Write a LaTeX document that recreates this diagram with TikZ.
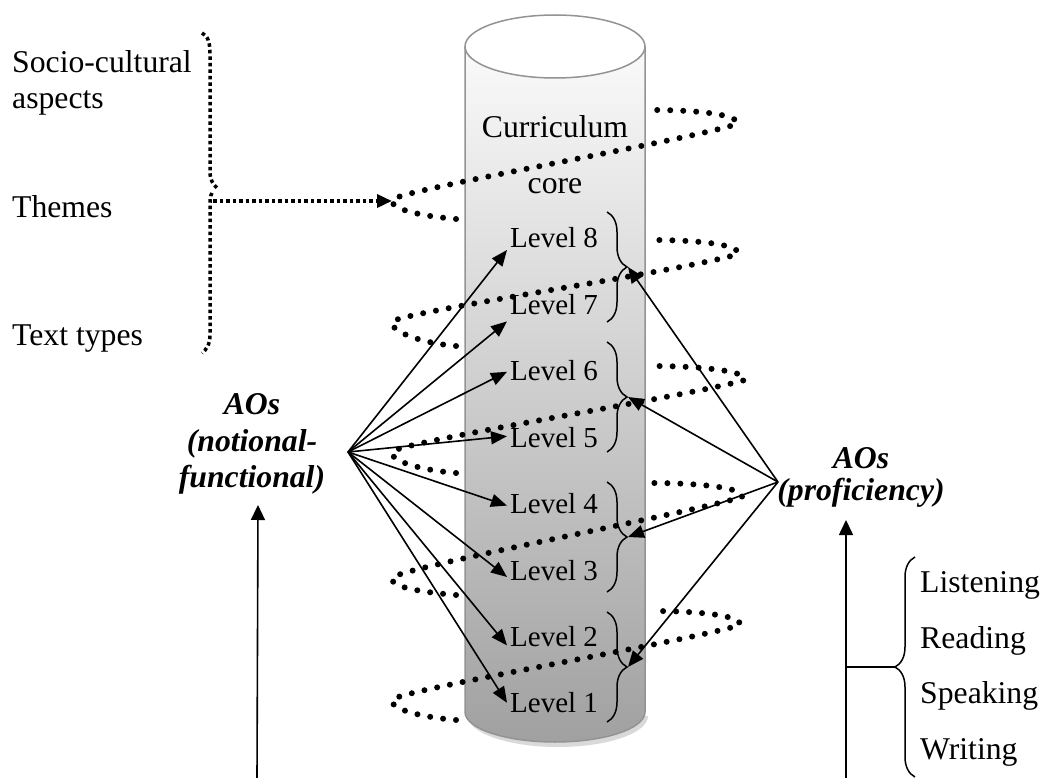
\documentclass[tikz,border=0pt]{standalone}
\usepackage{fontspec}
\setmainfont{Liberation Serif}
\usetikzlibrary{arrows.meta,decorations.pathreplacing,calc}
\begin{document}
\begin{tikzpicture}[x=1pt,y=-1pt,
  txt/.style={inner sep=0pt, font=\fontsize{31.7}{36}\selectfont},
  lvl/.style={inner sep=0pt, anchor=base west, font=\fontsize{29}{33}\selectfont},
  ao/.style={inner sep=0pt, align=center, font=\fontsize{31.7}{36.5}\selectfont\bfseries\itshape},
  arr/.style={line width=1.6pt, -{Triangle[length=16pt,width=13pt]}},
  varr/.style={line width=1.6pt, -{Triangle[length=15pt,width=14pt]}},
  spiral/.style={line width=6pt, line cap=round, dash pattern=on 0pt off 13pt},
  sqdot/.style={line width=3.5pt, dash pattern=on 3.5pt off 3pt},
  lvlbrace/.style={line width=1.5pt, decorate, decoration={brace, amplitude=20pt}},
]
\useasboundingbox (0,0) rectangle (1042,778);

% cylinder
\fill[gray!30] (468,716) arc[start angle=180,end angle=0,x radius=90,y radius=31] -- cycle;
\shade[top color=gray!4, bottom color=gray!74] (465,47) -- (465,712) arc[start angle=180,end angle=0,x radius=90,y radius=30] -- (645,47) -- cycle;
\draw[line width=1.5pt, gray!85] (465,47) -- (465,712) arc[start angle=180,end angle=0,x radius=90,y radius=30] -- (645,47);
\draw[line width=1.5pt, gray!85, fill=white] (555,46.5) ellipse[x radius=90,y radius=31.5];

% left texts
\node[txt, anchor=north west, align=left, font=\fontsize{31.7}{36}\selectfont] (soc) at (12,50.3) {Socio-cultural\\aspects};
\node[txt, anchor=base west] (themes) at (12,218) {Themes};
\node[txt, anchor=base west] (text) at (12,345) {Text types};

% curriculum core
\node[txt, anchor=north, align=center, font=\fontsize{31.7}{56}\selectfont] (core) at (555,115.3) {Curriculum\\core};

% levels
\foreach \n/\y in {8/248,7/314.4,6/380.8,5/447.2,4/513.6,3/580,2/646.4,1/712.8}
  \node[lvl] (L\n) at (510,\y) {Level \n};

% level braces
\draw[lvlbrace] (607,212) -- (607,322);
\draw[lvlbrace] (607,342) -- (607,452);
\draw[lvlbrace] (607,482) -- (607,592);
\draw[lvlbrace] (607,612) -- (607,722);
\coordinate (b87) at (628,267);
\coordinate (b65) at (628,397);
\coordinate (b43) at (628,537);
\coordinate (b21) at (628,667);

% spiral
\foreach \ybl/\yl/\yr/\xr in {219/200/124/737, 346/322/254/738, 473/452/380/745, 595/578/497/742, 720/700/625/740}
  \draw[spiral] (456,\ybl) .. controls (420,\ybl-3) and (390,\yl+9) .. (392,\yl)
     .. controls (394,\yl-9) and (690,\yr+16) .. (\xr,\yr)
     .. controls (\xr+3,\yr-9) and (700,\yr-14) .. (652,\yr-14);

% left dotted brace and arrow
\draw[sqdot] (202,33) .. controls (208,36) and (210,42) .. (210,55) -- (210,172) .. controls (210,180) and (213,184) .. (217,188);
\draw[sqdot] (212,193) .. controls (210,196) and (210,200) .. (210,208) -- (210,335) .. controls (210,345) and (206,350) .. (202,353);
\coordinate (btip) at (213,201);
\coordinate (stip) at (392,201);
\draw[sqdot, -{Triangle[length=15pt,width=13pt]}] (btip) -- (stip);

% AO nodes
\node[ao] (aoL) at (252,444) {AOs\\(notional-\\functional)};
\node[ao, font=\fontsize{31.7}{32}\selectfont\bfseries\itshape] (aoR) at (861,477) {AOs\\(proficiency)};
\coordinate (fanL) at (348,452);
\coordinate (fanR) at (778,482);

\foreach \n/\dy in {8/2,7/7,6/-9,5/-11,4/-8,3/-3,2/-1,1/-10}
  \draw[arr] (fanL) -- ($(L\n.base west)+(-3,\dy)$);
\foreach \b in {b87,b65,b43,b21}
  \draw[arr] (fanR) -- (\b);

% bottom arrows
\coordinate (lbot) at (257,778);
\coordinate (ltop) at (258,505);
\draw[varr] (lbot) -- (ltop);
\coordinate (rbot) at (846,778);
\coordinate (rtop) at (846,520);
\draw[varr] (rbot) -- (rtop);

% skills
\draw[lvlbrace] (915,777) -- (915,557);
\coordinate (sjoin) at (846,667);
\coordinate (stip2) at (895,667);
\draw[line width=1.6pt] (sjoin) -- (stip2);
\node[txt, anchor=north west, align=left, font=\fontsize{31.7}{55.7}\selectfont] (skills) at (920,571.3) {Listening\\Reading\\Speaking\\Writing};
\end{tikzpicture}
\end{document}
